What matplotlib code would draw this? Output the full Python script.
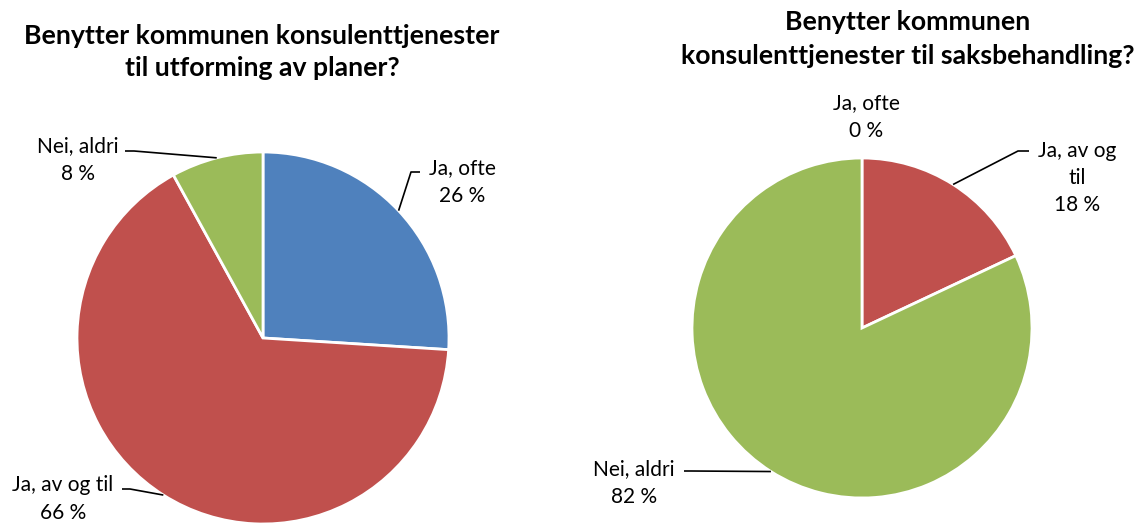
import numpy as np
import matplotlib
matplotlib.use("Agg")
import matplotlib.pyplot as plt

plt.rcParams['font.family'] = ['Lato', 'DejaVu Sans']

categories = ["Ja, ofte", "Ja, av og til", "Nei, aldri"]
values_planer = [26, 66, 8]
values_saks = [0, 18, 82]
labels_planer = ["Ja, ofte\n26 %", "Ja, av og til\n66 %", "Nei, aldri\n8 %"]
labels_saks = ["Ja, ofte\n0 %", "Ja, av og\ntil\n18 %", "Nei, aldri\n82 %"]
title_planer = "Benytter kommunen konsulenttjenester\ntil utforming av planer?"
title_saks = "Benytter kommunen\nkonsulenttjenester til saksbehandling?"
colors = ["#4F81BD", "#C0504D", "#9BBB59"]

W, H = 1148, 523
fig = plt.figure(figsize=(W / 100, H / 100), dpi=100)
ax = fig.add_axes([0, 0, 1, 1])

def py(y):
    return H - y

def draw_pie(vals, labels, center, radius, label_pos, elbows):
    wedges, _ = ax.pie(vals, colors=colors, startangle=90, counterclock=False,
                       center=center, radius=radius, frame=True,
                       wedgeprops=dict(edgecolor='white', linewidth=2.0))
    for w in wedges:
        w.set_clip_on(False)
    for i, (w, lab) in enumerate(zip(wedges, labels)):
        tx, ty = label_pos[i]
        ax.text(tx, py(ty), lab, ha='center', va='center', fontsize=15,
                linespacing=1.45, color='#000000')
        if elbows[i] is None:
            continue
        mid = np.deg2rad((w.theta1 + w.theta2) / 2)
        ex = center[0] + radius * np.cos(mid)
        ey = center[1] + radius * np.sin(mid)
        (x0, y0), (x1, y1) = elbows[i]
        ax.plot([x0, x1, ex], [py(y0), py(y1), ey], color='black', lw=1.2,
                solid_capstyle='butt', clip_on=False)

# Left pie
draw_pie(values_planer, labels_planer, (263, py(338)), 186,
         [(462, 182), (63, 499), (78, 160)],
         [((420, 172), (411, 172)), ((122, 489), (130, 489)), ((125, 151), (134, 151))])
# Right pie
draw_pie(values_saks, labels_saks, (862, py(328)), 170,
         [(866, 117), (1077, 178), (634, 483)],
         [None, ((1029, 151), (1018, 151)), ((684, 471), (691, 471))])

ax.text(262, py(52), title_planer, ha='center', va='center', fontsize=19.2,
        fontweight='bold', linespacing=1.45)
ax.text(908, py(39), title_saks, ha='center', va='center', fontsize=19.2,
        fontweight='bold', linespacing=1.45)

ax.set_xlim(0, W)
ax.set_ylim(0, H)
ax.set_aspect('equal')
ax.axis('off')

fig.savefig("out.png", dpi=100)
